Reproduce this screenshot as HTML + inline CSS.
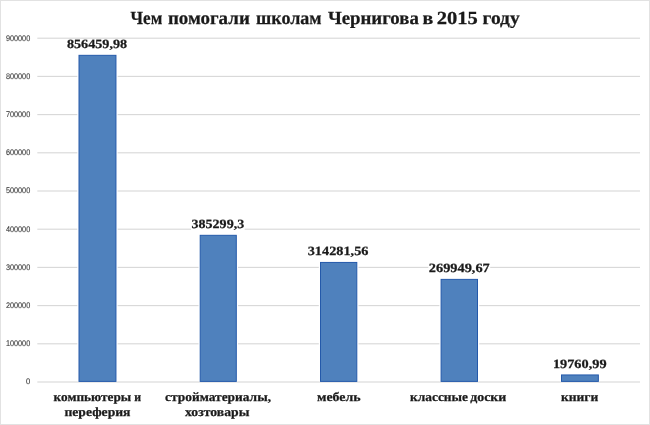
<!DOCTYPE html>
<html lang="ru"><head><meta charset="utf-8"><title>Чем помогали школам Чернигова в 2015 году</title>
<style>
html,body{margin:0;padding:0;background:#fff;}
body{width:650px;height:425px;overflow:hidden;}
svg{display:block;}
.t{font-family:"Liberation Serif",serif;font-weight:bold;fill:#1a1a1a;stroke:#1a1a1a;stroke-width:0.25px;text-rendering:geometricPrecision;}
.y{font-family:"Liberation Sans",sans-serif;fill:#3c3c3c;stroke:#3c3c3c;stroke-width:0.12px;font-size:8.2px;text-rendering:geometricPrecision;}
</style></head><body>
<svg width="650" height="425" viewBox="0 0 650 425">
<rect x="0" y="0" width="650" height="425" fill="#ffffff"/>
<rect x="0.5" y="0.5" width="649" height="424" fill="none" stroke="#e2e2e2" stroke-width="1"/>
<rect x="37.3" y="381.45" width="602.7" height="1.1" fill="#d8d8d8"/>
<rect x="37.3" y="343.25" width="602.7" height="1.1" fill="#d8d8d8"/>
<rect x="37.3" y="305.05" width="602.7" height="1.1" fill="#d8d8d8"/>
<rect x="37.3" y="266.85" width="602.7" height="1.1" fill="#d8d8d8"/>
<rect x="37.3" y="228.65" width="602.7" height="1.1" fill="#d8d8d8"/>
<rect x="37.3" y="190.45" width="602.7" height="1.1" fill="#d8d8d8"/>
<rect x="37.3" y="152.25" width="602.7" height="1.1" fill="#d8d8d8"/>
<rect x="37.3" y="114.05" width="602.7" height="1.1" fill="#d8d8d8"/>
<rect x="37.3" y="75.85" width="602.7" height="1.1" fill="#d8d8d8"/>
<rect x="37.3" y="37.65" width="602.7" height="1.1" fill="#d8d8d8"/>
<text class="y" x="26" y="384" textLength="4.2" lengthAdjust="spacingAndGlyphs">0</text>
<text class="y" x="5.9" y="346" textLength="24.3" lengthAdjust="spacingAndGlyphs">100000</text>
<text class="y" x="5.9" y="308" textLength="24.3" lengthAdjust="spacingAndGlyphs">200000</text>
<text class="y" x="5.9" y="270" textLength="24.3" lengthAdjust="spacingAndGlyphs">300000</text>
<text class="y" x="5.9" y="232" textLength="24.3" lengthAdjust="spacingAndGlyphs">400000</text>
<text class="y" x="5.9" y="193" textLength="24.3" lengthAdjust="spacingAndGlyphs">500000</text>
<text class="y" x="5.9" y="155" textLength="24.3" lengthAdjust="spacingAndGlyphs">600000</text>
<text class="y" x="5.9" y="117" textLength="24.3" lengthAdjust="spacingAndGlyphs">700000</text>
<text class="y" x="5.9" y="79" textLength="24.3" lengthAdjust="spacingAndGlyphs">800000</text>
<text class="y" x="5.9" y="41" textLength="24.3" lengthAdjust="spacingAndGlyphs">900000</text>
<rect x="77.30" y="53.83" width="40.35" height="327.47" fill="#ffffff"/>
<rect x="79.00" y="55.33" width="36.95" height="326.07" fill="#4f81bd" stroke="#2459aa" stroke-width="1"/>
<rect x="66.5" y="39.40" width="61.1" height="12" fill="#ffffff"/>
<text class="t" font-size="12.6px" x="66.9" y="48.40" textLength="60.3" lengthAdjust="spacingAndGlyphs">856459,98</text>
<rect x="198.50" y="233.82" width="39.50" height="147.48" fill="#ffffff"/>
<rect x="200.20" y="235.32" width="36.10" height="146.08" fill="#4f81bd" stroke="#2459aa" stroke-width="1"/>
<rect x="191.1" y="219.20" width="53.5" height="12" fill="#ffffff"/>
<text class="t" font-size="12.6px" x="191.5" y="228.20" textLength="52.7" lengthAdjust="spacingAndGlyphs">385299,3</text>
<rect x="318.80" y="260.94" width="39.70" height="120.36" fill="#ffffff"/>
<rect x="320.50" y="262.44" width="36.30" height="118.96" fill="#4f81bd" stroke="#2459aa" stroke-width="1"/>
<rect x="307.3" y="246.30" width="61.6" height="12" fill="#ffffff"/>
<text class="t" font-size="12.6px" x="307.7" y="255.30" textLength="60.8" lengthAdjust="spacingAndGlyphs">314281,56</text>
<rect x="439.40" y="277.88" width="39.80" height="103.42" fill="#ffffff"/>
<rect x="441.10" y="279.38" width="36.40" height="102.02" fill="#4f81bd" stroke="#2459aa" stroke-width="1"/>
<rect x="428.4" y="263.10" width="61.8" height="12" fill="#ffffff"/>
<text class="t" font-size="12.6px" x="428.8" y="272.10" textLength="61.0" lengthAdjust="spacingAndGlyphs">269949,67</text>
<rect x="559.80" y="373.45" width="40.25" height="7.85" fill="#ffffff"/>
<rect x="561.50" y="374.95" width="36.85" height="6.45" fill="#4f81bd" stroke="#2459aa" stroke-width="1"/>
<rect x="552.5" y="358.70" width="54.5" height="12" fill="#ffffff"/>
<text class="t" font-size="12.6px" x="552.9" y="367.70" textLength="53.7" lengthAdjust="spacingAndGlyphs">19760,99</text>
<text class="t" font-size="18.4px" x="130.5" y="24.0" textLength="31.8" lengthAdjust="spacingAndGlyphs">Чем</text>
<text class="t" font-size="18.4px" x="167.9" y="24.0" textLength="81.9" lengthAdjust="spacingAndGlyphs">помогали</text>
<text class="t" font-size="18.4px" x="256.1" y="24.0" textLength="65.5" lengthAdjust="spacingAndGlyphs">школам</text>
<text class="t" font-size="18.4px" x="327.9" y="24.0" textLength="90.9" lengthAdjust="spacingAndGlyphs">Чернигова</text>
<text class="t" font-size="18.4px" x="422.4" y="24.0" textLength="10.8" lengthAdjust="spacingAndGlyphs">в</text>
<text class="t" font-size="18.4px" x="436.8" y="24.0" textLength="41.1" lengthAdjust="spacingAndGlyphs">2015</text>
<text class="t" font-size="18.4px" x="482.6" y="24.0" textLength="37.1" lengthAdjust="spacingAndGlyphs">году</text>
<text class="t" font-size="12.6px" x="53.6" y="401.4" textLength="77.6" lengthAdjust="spacingAndGlyphs">компьютеры</text>
<text class="t" font-size="12.6px" x="134.2" y="401.4" textLength="6.8" lengthAdjust="spacingAndGlyphs">и</text>
<text class="t" font-size="12.6px" x="64.4" y="416.2" textLength="66.1" lengthAdjust="spacingAndGlyphs">переферия</text>
<text class="t" font-size="12.6px" x="165" y="401.4" textLength="106.0" lengthAdjust="spacingAndGlyphs">стройматериалы,</text>
<text class="t" font-size="12.6px" x="185" y="416.2" textLength="64.4" lengthAdjust="spacingAndGlyphs">хозтовары</text>
<text class="t" font-size="12.6px" x="317" y="401.4" textLength="43.6" lengthAdjust="spacingAndGlyphs">мебель</text>
<text class="t" font-size="12.6px" x="410" y="401.4" textLength="58.0" lengthAdjust="spacingAndGlyphs">классные</text>
<text class="t" font-size="12.6px" x="470.2" y="401.4" textLength="36.2" lengthAdjust="spacingAndGlyphs">доски</text>
<text class="t" font-size="12.6px" x="560.9" y="401.4" textLength="37.4" lengthAdjust="spacingAndGlyphs">книги</text>
</svg>
</body></html>
